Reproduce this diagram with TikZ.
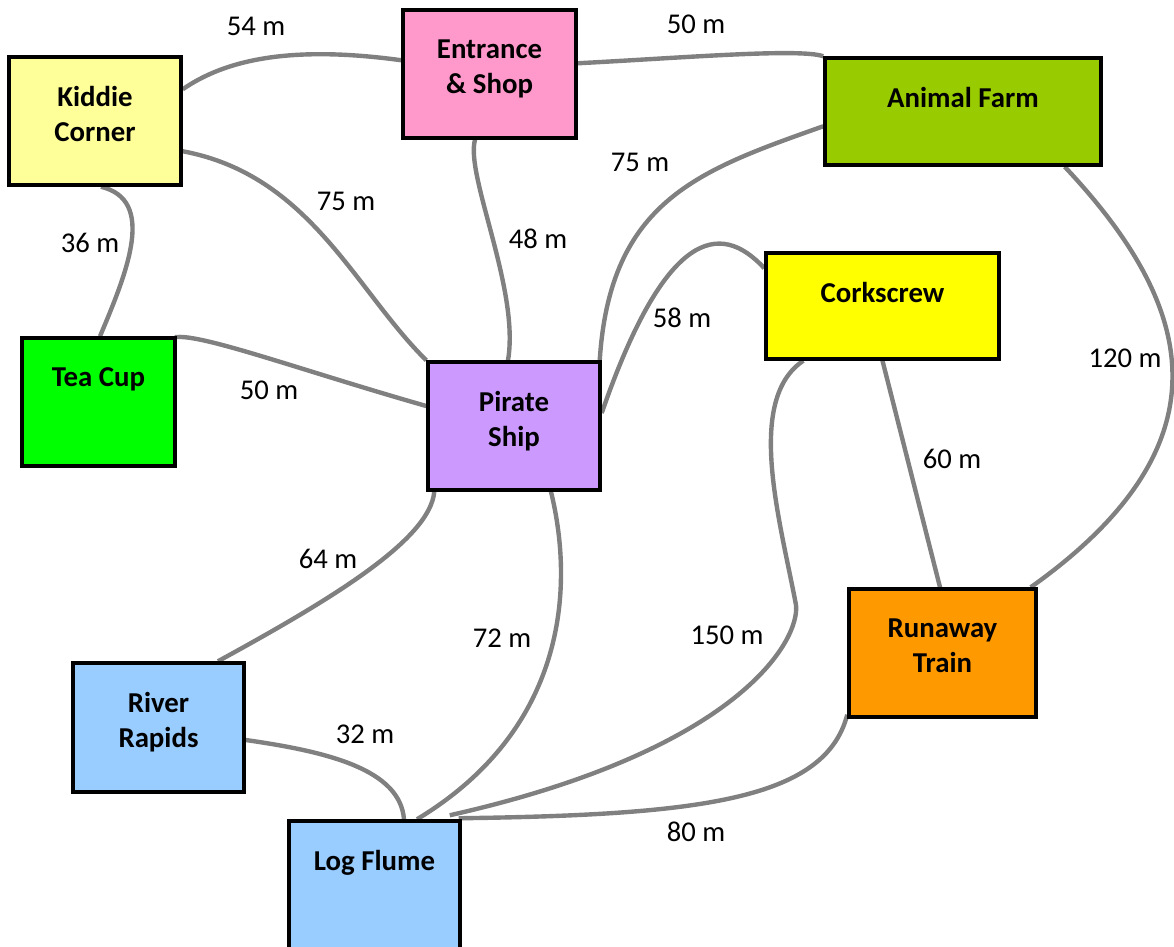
\documentclass[tikz,border=0pt]{standalone}
\usepackage{fontspec}
\setmainfont{Carlito}
\usetikzlibrary{calc,backgrounds}
\definecolor{roadgray}{RGB}{128,128,128}
\definecolor{ckiddie}{HTML}{FFFF99}
\definecolor{centrance}{HTML}{FF99CC}
\definecolor{canimal}{HTML}{99CC00}
\definecolor{cteacup}{HTML}{00FF00}
\definecolor{cpirate}{HTML}{CC99FF}
\definecolor{ccork}{HTML}{FFFF00}
\definecolor{ctrain}{HTML}{FF9900}
\definecolor{cwater}{HTML}{99CCFF}
\begin{document}
\begin{tikzpicture}[x=0.02cm,y=-0.02cm,
  box/.style={draw=black,line width=2pt,rectangle,inner sep=0pt},
  lab/.style={anchor=north,yshift=-17.5pt,align=center,inner sep=0pt,
    font=\fontsize{16.4}{20}\selectfont\bfseries},
  road/.style={draw=roadgray,line width=2.5pt},
  dist/.style={inner sep=0pt,font=\fontsize{16.3}{19}\selectfont}]
\useasboundingbox (0,0) rectangle (1174,947);
% attractions
\node[box,fill=ckiddie,minimum width=3.44cm,minimum height=2.56cm,
  label={[lab]north:Kiddie\\Corner}] (kc) at (95,121) {};
\node[box,fill=centrance,minimum width=3.46cm,minimum height=2.56cm,
  label={[lab]north:Entrance\\\& Shop}] (es) at (489.5,74) {};
\node[box,fill=canimal,minimum width=5.52cm,minimum height=2.14cm,
  label={[lab]north:Animal Farm}] (af) at (963,111.5) {};
\node[box,fill=cteacup,minimum width=3.06cm,minimum height=2.56cm,
  label={[lab]north:Tea Cup}] (tc) at (98.5,402) {};
\node[box,fill=cpirate,minimum width=3.44cm,minimum height=2.56cm,
  label={[lab]north:Pirate\\Ship}] (ps) at (514,426) {};
\node[box,fill=ccork,minimum width=4.66cm,minimum height=2.12cm,
  label={[lab]north:Corkscrew}] (cs) at (882.5,306) {};
\node[box,fill=ctrain,minimum width=3.74cm,minimum height=2.56cm,
  label={[lab]north:Runaway\\Train}] (rt) at (942.5,653) {};
\node[box,fill=cwater,minimum width=3.42cm,minimum height=2.58cm,
  label={[lab]north:River\\Rapids}] (rr) at (158.5,727.5) {};
\node[box,fill=cwater,minimum width=3.42cm,minimum height=2.56cm,
  label={[lab]north:Log Flume}] (lf) at (374.5,885) {};
\coordinate (m150) at (796,605);
% paths
\begin{pgfonlayer}{background}
\draw[road] ($(kc.north east)+(0,34)$) .. controls (225,60) and (290,45) .. ($(es.north west)+(0,52)$);
\draw[road] ($(es.north east)+(0,55)$) .. controls (680,58) and (800,48) .. (af.north west);
\draw[road] ($(kc.south)+(6,0)$) .. controls (156,200) and (128,270) .. ($(tc.north)+(1.5,0)$);
\draw[road] ($(kc.north east)+(0,96)$) .. controls (310,175) and (355,290) .. (ps.north west);
\draw[road] ($(es.south)+(-14.5,0)$) .. controls (465,175) and (520,290) .. ($(ps.north)+(-6,0)$);
\draw[road] ($(af.north west)+(0,70)$) .. controls (700,170) and (610,200) .. ($(ps.north east)+(-2,0)$);
\draw[road] ($(cs.north west)+(0,17)$) .. controls (720,220) and (665,230) .. ($(ps.east)+(0,-13)$);
\draw[road] ($(tc.north east)+(-2,1)$) .. controls (200,333) and (300,370) .. ($(ps.west)+(0,-20)$);
\draw[road] ($(af.south east)+(-38,0)$) .. controls (1190,300) and (1238,440) .. ($(rt.north east)+(-7,0)$);
\draw[road] (cs.south) -- ($(rt.north)+(-2.5,0)$);
\draw[road] ($(cs.south west)+(39,0)$) .. controls (745,400) and (780,520) .. (m150)
  .. controls (800,640) and (740,750) .. ($(lf.north east)+(-12,-4)$);
\draw[road] ($(rt.south west)+(0,-4)$) .. controls (825,800) and (700,815) .. ($(lf.north east)+(-3,-1)$);
\draw[road] ($(ps.south west)+(8,0)$) .. controls (430,540) and (330,600) .. ($(rr.north)+(59.5,0)$);
\draw[road] ($(ps.south)+(37,0)$) .. controls (575,590) and (565,730) .. ($(lf.north)+(42.5,0)$);
\draw[road] ($(rr.east)+(0,12.5)$) .. controls (330,752) and (400,770) .. ($(lf.north)+(29.5,0)$);
\end{pgfonlayer}
% distances
\node[dist] (d1) at (256,26) {54 m};
\node[dist] (d2) at (696,24) {50 m};
\node[dist] (d3) at (90,243) {36 m};
\node[dist] (d4) at (346,201) {75 m};
\node[dist] (d5) at (538,239) {48 m};
\node[dist] (d6) at (640,162) {75 m};
\node[dist] (d7) at (682,318) {58 m};
\node[dist] (d8) at (269,390) {50 m};
\node[dist] (d9) at (1125,358) {120 m};
\node[dist] (d10) at (952,459) {60 m};
\node[dist] (d11) at (328,559) {64 m};
\node[dist] (d12) at (502,638) {72 m};
\node[dist] (d13) at (727,635) {150 m};
\node[dist] (d14) at (365,734) {32 m};
\node[dist] (d15) at (696,832) {80 m};
\end{tikzpicture}
\end{document}
